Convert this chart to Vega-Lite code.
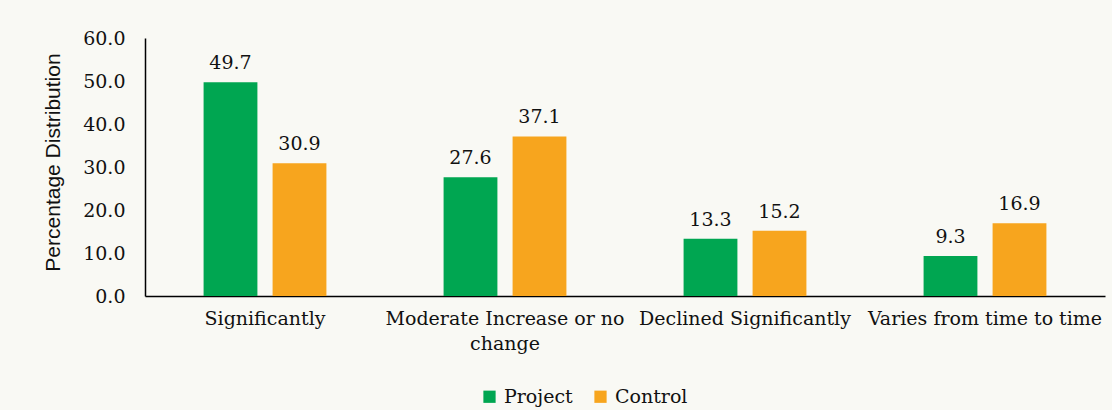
{
  "$schema": "https://vega.github.io/schema/vega-lite/v6.json",
  "autosize": {"type": "none"},
  "width": 960,
  "height": 258,
  "padding": {"left": 145, "top": 38, "right": 7, "bottom": 114},
  "background": "#f9f9f4",
  "config": {"view": {"stroke": null}, "font": "DejaVu Serif"},
  "data": {
    "values": [
      {"category": "Significantly", "group": "Project", "value": 49.7},
      {"category": "Significantly", "group": "Control", "value": 30.9},
      {"category": "Moderate Increase or no change", "group": "Project", "value": 27.6},
      {"category": "Moderate Increase or no change", "group": "Control", "value": 37.1},
      {"category": "Declined Significantly", "group": "Project", "value": 13.3},
      {"category": "Declined Significantly", "group": "Control", "value": 15.2},
      {"category": "Varies from time to time", "group": "Project", "value": 9.3},
      {"category": "Varies from time to time", "group": "Control", "value": 16.9}
    ]
  },
  "encoding": {
    "x": {
      "field": "category",
      "type": "nominal",
      "sort": null,
      "scale": {"paddingInner": 0.425, "paddingOuter": 0.2125},
      "axis": {
        "title": null,
        "labelAngle": 0,
        "labelFont": "DejaVu Serif",
        "labelFontSize": 19,
        "labelColor": "#111111",
        "labelPadding": 13,
        "labelLineHeight": 25,
        "labelBaseline": "top",
        "labelLimit": 400,
        "labelOverlap": false,
        "ticks": false,
        "domainColor": "#000000",
        "domainWidth": 1.5,
        "labelExpr": "datum.label == 'Moderate Increase or no change' ? ['Moderate Increase or no', 'change'] : datum.label"
      }
    },
    "xOffset": {
      "field": "group",
      "type": "nominal",
      "sort": ["Project", "Control"],
      "scale": {"paddingInner": 0.22, "paddingOuter": 0.11}
    },
    "y": {
      "field": "value",
      "type": "quantitative",
      "scale": {"domain": [0, 60]},
      "axis": {
        "title": "Percentage Distribution",
        "titleFont": "Liberation Sans",
        "titleFontSize": 21,
        "titleFontWeight": "normal",
        "titleColor": "#111111",
        "titleX": -92,
        "titleY": 124,
        "titleBaseline": "middle",
        "titleAngle": -90,
        "values": [0, 10, 20, 30, 40, 50, 60],
        "format": ".1f",
        "grid": false,
        "ticks": false,
        "labelOverlap": false,
        "labelFont": "DejaVu Serif",
        "labelFontSize": 19,
        "labelColor": "#111111",
        "labelPadding": 20,
        "domainColor": "#000000",
        "domainWidth": 1.5
      }
    }
  },
  "layer": [
    {
      "mark": {"type": "bar"},
      "encoding": {
        "color": {
          "field": "group",
          "type": "nominal",
          "sort": ["Project", "Control"],
          "scale": {"domain": ["Project", "Control"], "range": ["#00a651", "#f7a51e"]},
          "legend": {
            "title": null,
            "orient": "none",
            "direction": "horizontal",
            "legendX": 335,
            "legendY": 349,
            "symbolType": "square",
            "symbolSize": 150,
            "symbolStrokeWidth": 0,
            "labelFont": "DejaVu Serif",
            "labelFontSize": 19,
            "labelColor": "#111111",
            "labelLimit": 300,
            "columnPadding": 18,
            "labelOffset": 5
          }
        }
      }
    },
    {
      "mark": {"type": "text", "baseline": "middle", "dy": -19, "fontSize": 19, "font": "DejaVu Serif", "color": "#111111"},
      "encoding": {
        "text": {"field": "value", "type": "quantitative", "format": ".1f"}
      }
    }
  ]
}
